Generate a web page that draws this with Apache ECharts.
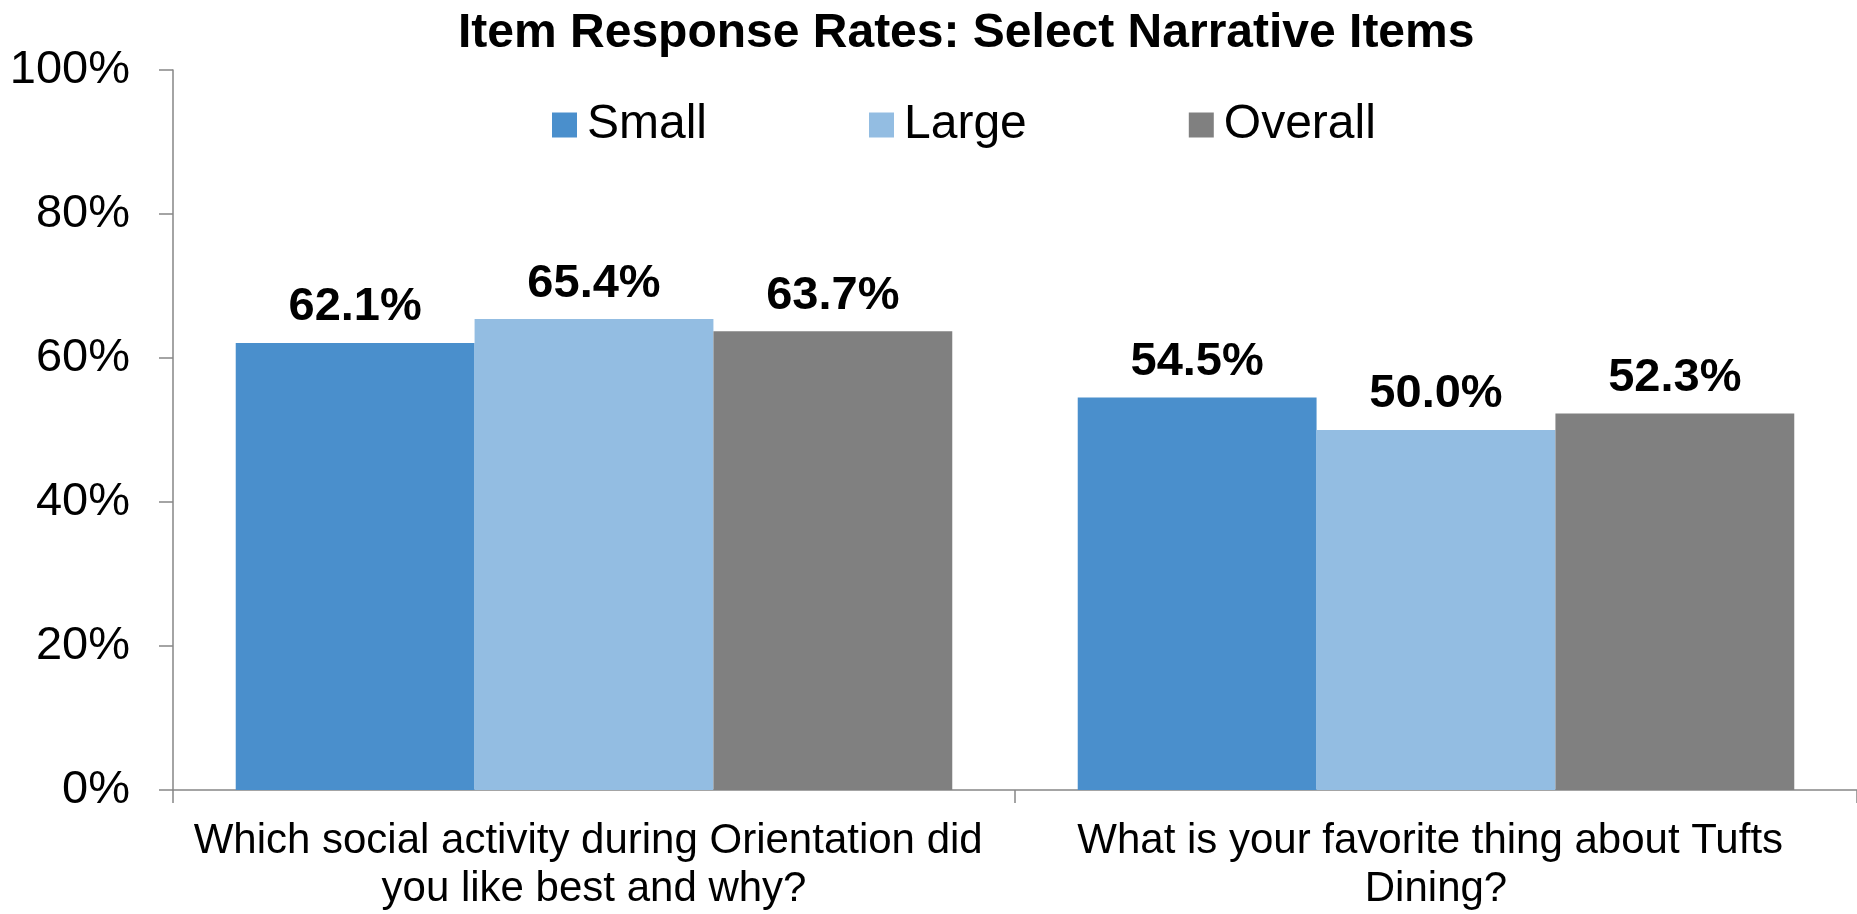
<!DOCTYPE html>
<html>
<head>
<meta charset="utf-8">
<script src="https://cdn.jsdelivr.net/npm/echarts@6/dist/echarts.min.js"></script>
<style>
html,body{margin:0;padding:0;background:#fff;}
#main{width:1857px;height:914px;}
</style>
</head>
<body>
<div id="main"></div>
<script>
const chartTitle = 'Item Response Rates: Select Narrative Items';
const categories = [
  'Which social activity during Orientation did you like best and why?',
  'What is your favorite thing about Tufts Dining?'
];
const seriesNames = ['Small', 'Large', 'Overall'];
const smallValues = [62.1, 54.5];
const largeValues = [65.4, 50.0];
const overallValues = [63.7, 52.3];
const yTicks = [0, 20, 40, 60, 80, 100];

const colors = ['#4a8fcc', '#93bde2', '#808080'];
const FONT = '"Liberation Sans", Arial, sans-serif';

const chart = echarts.init(document.getElementById('main'));
const labelStyle = {
  show: true,
  position: 'top',
  distance: 12,
  formatter: p => p.value.toFixed(1) + '%',
  fontFamily: FONT,
  fontSize: 47,
  fontWeight: 'bold',
  color: '#000'
};
const values = [smallValues, largeValues, overallValues];
chart.setOption({
  animation: false,
  backgroundColor: '#fff',
  color: colors,
  title: {
    text: chartTitle,
    left: 453,
    top: 5,
    textStyle: {fontFamily: FONT, fontSize: 48, fontWeight: 'bold', color: '#000'}
  },
  legend: {
    data: seriesNames,
    left: 547,
    top: 96,
    itemWidth: 25,
    itemHeight: 25,
    itemGap: 162,
    icon: 'rect',
    textStyle: {fontFamily: FONT, fontSize: 48, color: '#000', padding: [0, 0, 0, 5]}
  },
  grid: {left: 173, right: -4, top: 70, bottom: 124, containLabel: false},
  xAxis: {
    type: 'category',
    data: categories,
    axisLine: {lineStyle: {color: '#868686', width: 1.5}},
    axisTick: {show: true, length: 13, lineStyle: {color: '#868686', width: 1.5}},
    axisLabel: {
      interval: 0,
      margin: 27,
      width: 830,
      overflow: 'break',
      fontFamily: FONT,
      fontSize: 42,
      lineHeight: 48,
      color: '#000',
      align: 'center'
    }
  },
  yAxis: {
    type: 'value',
    min: yTicks[0],
    max: yTicks[yTicks.length - 1],
    interval: 20,
    axisLine: {show: true, lineStyle: {color: '#868686', width: 1.5}},
    axisTick: {show: true, length: 14, lineStyle: {color: '#868686', width: 1.5}},
    splitLine: {show: false},
    axisLabel: {
      formatter: '{value}%',
      margin: 43,
      fontFamily: FONT,
      fontSize: 47,
      color: '#000'
    }
  },
  series: seriesNames.map((name, i) => ({
    name: name,
    type: 'bar',
    data: values[i],
    barGap: '0%',
    barCategoryGap: '14.9%',
    itemStyle: {color: colors[i]},
    label: labelStyle
  }))
});
</script>
</body>
</html>
